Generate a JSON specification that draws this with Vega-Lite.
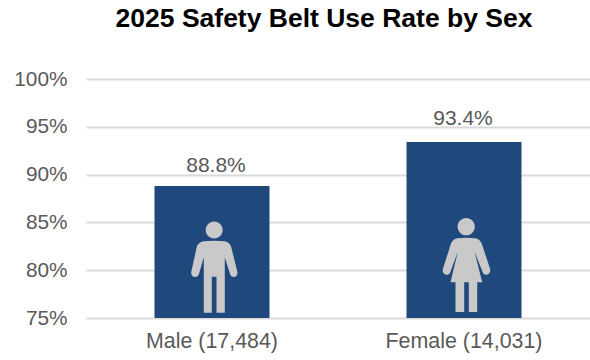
{
  "$schema": "https://vega.github.io/schema/vega-lite/v6.json",
  "width": 504,
  "height": 239,
  "autosize": "none",
  "padding": {"left": 86, "top": 79, "right": 0, "bottom": 42},
  "background": "white",
  "title": {
    "text": "2025 Safety Belt Use Rate by Sex",
    "font": "Liberation Sans",
    "fontSize": 26.5,
    "fontWeight": "bold",
    "color": "#000000",
    "anchor": "middle",
    "dx": -14,
    "offset": 36
  },
  "config": {"view": {"stroke": null}},
  "data": {
    "values": [
      {"group": "Male (17,484)", "rate": 88.8, "base": 75, "label": "88.8%"},
      {"group": "Female (14,031)", "rate": 93.4, "base": 75, "label": "93.4%"}
    ]
  },
  "encoding": {
    "x": {
      "field": "group",
      "type": "nominal",
      "sort": null,
      "scale": {"paddingInner": 0.5437, "paddingOuter": 0.2718},
      "axis": {
        "title": null,
        "labelAngle": 0,
        "labelFont": "Liberation Sans",
        "labelFontSize": 21.4,
        "labelColor": "#595959",
        "labelPadding": 12,
        "domain": false,
        "ticks": false,
        "grid": false
      }
    }
  },
  "layer": [
    {
      "mark": {"type": "bar", "color": "#1f497d"},
      "encoding": {
        "y": {
          "field": "rate",
          "type": "quantitative",
          "scale": {"domain": [75, 100], "nice": false},
          "axis": {
            "title": null,
            "values": [75, 80, 85, 90, 95, 100],
            "format": ".0f",
            "labelExpr": "datum.label + '%'",
            "labelFont": "Liberation Sans",
            "labelFontSize": 20.8,
            "labelColor": "#595959",
            "labelPadding": 19,
            "domain": false,
            "ticks": false,
            "grid": true,
            "gridColor": "#d9d9d9",
            "gridWidth": 2
          }
        },
        "y2": {"field": "base"}
      }
    },
    {
      "transform": [{"filter": "datum.rate < 90"}],
      "mark": {"type": "text", "baseline": "bottom", "dx": 4, "dy": -10, "font": "Liberation Sans", "fontSize": 21, "color": "#595959"},
      "encoding": {
        "y": {"field": "rate", "type": "quantitative"},
        "text": {"field": "label"}
      }
    },
    {
      "transform": [{"filter": "datum.rate >= 90"}],
      "mark": {"type": "text", "baseline": "bottom", "dx": -1, "dy": -13, "font": "Liberation Sans", "fontSize": 21, "color": "#595959"},
      "encoding": {
        "y": {"field": "rate", "type": "quantitative"},
        "text": {"field": "label"}
      }
    },
    {
      "mark": {"type": "point", "filled": true, "opacity": 1, "color": "#c9c9c9", "strokeWidth": 0, "size": 4},
      "encoding": {
        "y": {"field": "base", "type": "quantitative"},
        "shape": {
          "field": "group",
          "type": "nominal",
          "legend": null,
          "scale": {
            "domain": ["Male (17,484)", "Female (14,031)"],
            "range": [
              "M-6.3 -88A8.5 8.5 0 1 0 10.7 -88A8.5 8.5 0 1 0 -6.3 -88ZM-8.2 -76.7C-12 -76.2 -15 -73.5 -15.5 -69.7L-20.8 -45.7C-21.3 -40 -14 -39 -12.8 -44.7L-8.2 -60.7V-5.3H-0.2V-41.3H4.5V-5.3H12.8V-60.7L17.8 -44.7C19 -39 26 -40 25.5 -45.7L19.5 -69.7C19 -73.5 16 -76.2 12.5 -76.7C6 -77.6 -2 -77.6 -8.2 -76.7Z",
              "M-6.4 -91.3A8.6 8.6 0 1 0 10.8 -91.3A8.6 8.6 0 1 0 -6.4 -91.3ZM-6.8 -79.7C-10 -79 -12.5 -76.5 -13.5 -73L-21.2 -48.7C-22.3 -43 -15 -41 -13.5 -46.3L-6.2 -66.3L-13.5 -35.7H-8.5V-6H0.2V-35.7H4.8V-6H13.2V-35.7H18.2L10.5 -66.3L18.5 -46.3C20 -41 27.2 -43 26.2 -48.7L18.2 -73C17 -76.5 15 -79 11.5 -79.7C5 -80.6 -1 -80.6 -6.8 -79.7Z"
            ]
          }
        }
      }
    }
  ]
}
